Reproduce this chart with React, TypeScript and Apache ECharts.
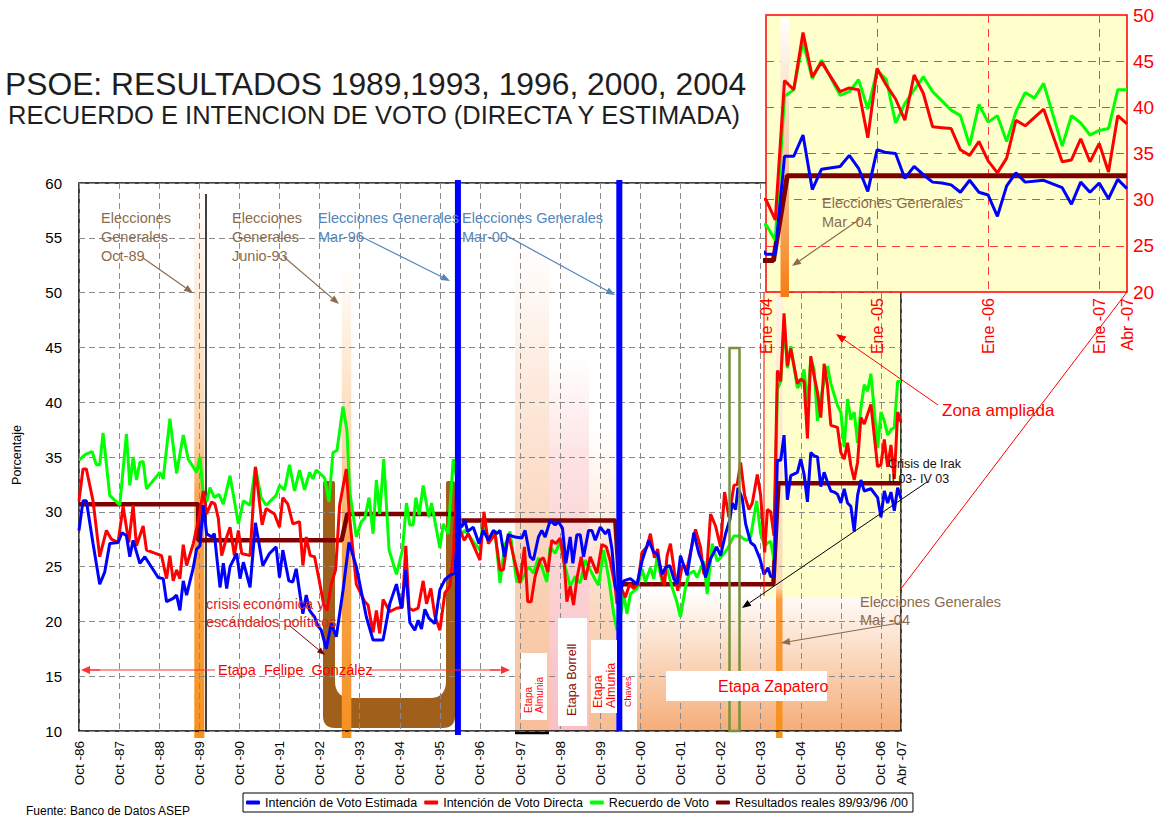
import React, { useEffect, useRef } from 'react';
import * as echarts from 'echarts';

const FONT = '"Liberation Sans", Arial, sans-serif';

const SERIES_NAMES = [
  'Intención de Voto Estimada',
  'Intención de Voto Directa',
  'Recuerdo de Voto',
  'Resultados reales 89/93/96 /00',
];
const SERIES_COLORS = ['#0000ff', '#ff0000', '#00ff00', '#7f0000'];

// x = months since Oct-86
const MAIN_TICK_LABELS = [
  'Oct -86', 'Oct -87', 'Oct -88', 'Oct -89', 'Oct -90', 'Oct -91', 'Oct -92', 'Oct -93',
  'Oct -94', 'Oct -95', 'Oct -96', 'Oct -97', 'Oct -98', 'Oct -99', 'Oct -00', 'Oct -01',
  'Oct -02', 'Oct -03', 'Oct -04', 'Oct -05', 'Oct -06', 'Abr -07',
];
const INSET_TICK_LABELS = ['Ene -04', 'Ene -05', 'Ene -06', 'Ene -07', 'Abr -07'];
const MAIN_MAX = 246; // Abr-07
const INSET_START = 207; // Ene-04
const INSET_MAX = 39;

const estimada: number[][] = [
  [0, 28.3], [1.2, 31.0], [2.2, 31.0], [4.2, 27.1], [6.2, 23.4], [7.7, 24.5], [9.2, 27.1], [11.7, 27.2],
  [12.9, 28.1], [14.2, 27.8], [15.2, 25.9], [16.2, 27.4], [18.2, 25.3], [19.7, 25.9], [23.7, 24.0],
  [25.2, 23.9], [26.2, 21.8], [28.2, 22.1], [29.2, 22.4], [30.2, 21.0], [31.2, 23.7], [32.2, 22.4],
  [34.2, 24.9], [35.2, 26.6], [36.2, 26.9], [37.2, 30.6], [38.2, 28.0], [39.7, 27.7], [40.5, 28.0],
  [42.2, 23.1], [43.2, 25.3], [44.2, 23.0], [45.2, 25.0], [47.2, 26.2], [48.2, 23.9], [49.2, 25.4],
  [51.2, 23.1], [52.8, 29.0], [55, 25.1], [57, 26.2], [59, 26.8], [60, 24.0], [61, 26.5], [62.8, 23.7],
  [64, 23.6], [65, 24.8], [67, 20.7], [68, 22.4], [69, 21.0], [70.5, 20.4], [71.5, 19.6], [72.5, 19.2],
  [74, 17.5], [75.5, 19.8], [77, 18.6], [79, 22.8], [80.8, 27.2], [83, 25.0], [86, 20.4], [88, 18.3],
  [91, 18.3], [93, 21.6], [95, 23.4], [96.5, 21.2], [97.8, 24.7], [99, 19.9], [100.5, 19.2], [101.5, 20.1],
  [102.5, 19.3], [103.5, 21.1], [104.7, 20.3], [106.5, 19.8], [108, 22.9], [109.5, 23.8], [111, 24.2],
  [112.5, 24.4], [113.5, 29.2], [114.5, 28.6], [115.5, 29.2], [116.3, 28.2], [118, 28.6], [119.7, 27.1],
  [121, 28.3], [122.5, 27.4], [124, 28.3], [125, 28.0], [126, 28.3], [127.3, 25.9], [128.5, 27.9],
  [130.5, 27.7], [132.5, 27.6], [133.5, 28.3], [135, 25.9], [136, 25.6], [137.5, 27.7], [138.5, 28.3],
  [139.5, 27.7], [141, 29.2], [142.5, 28.8], [143.5, 29.1], [144.7, 28.5], [145.7, 25.3], [147, 27.7],
  [147.8, 25.3], [149, 27.9], [150, 27.9], [151, 25.9], [152.5, 28.3], [153.5, 28.3], [154.5, 27.4],
  [156, 28.6], [157.5, 28.0], [158.5, 28.4], [159.5, 26.6], [160.5, 23.1], [161.8, 22.5], [163, 23.7],
  [165, 23.9], [167, 23.4], [168.5, 25.5], [170.5, 27.4], [172, 26.3], [173, 26.2], [174.5, 24.3],
  [175.5, 24.9], [176.8, 25.1], [178, 23.9], [179, 23.4], [180, 26.0], [182, 24.2], [184, 28.1],
  [185.5, 26.2], [186.8, 25.2], [187.5, 24.0], [189, 25.7], [190.8, 26.8], [192, 26.0], [193.5, 28.0],
  [194.8, 29.3], [195.5, 30.8], [196.5, 30.2], [197.2, 32.2], [198.5, 31.2], [199.5, 28.9], [201, 27.2],
  [202.2, 26.9], [203.8, 25.7], [205, 24.3], [206.2, 24.9],
  [207, 24.1], [208, 24.1], [209, 34.7], [210, 34.7], [211, 37.0], [212, 31.1], [213, 33.3], [215, 33.6],
  [216, 34.8], [217, 33.4], [218, 30.9], [219, 35.4], [220, 35.1], [221, 35.0], [222, 32.3], [223, 33.6],
  [224, 32.7], [225, 31.9], [226, 31.8], [227, 31.6], [228, 30.8], [229, 32.1], [230, 30.8], [231, 30.5],
  [232, 28.2], [233, 31.5], [234, 32.9], [235, 31.9], [237, 32.1], [239, 31.3], [240, 29.5], [241, 31.9],
  [242, 30.8], [243, 31.8], [244, 30.1], [245, 32.2], [246, 31.2],
];

const directa: number[][] = [
  [0, 31.0], [1.2, 33.9], [2.2, 33.9], [4.2, 31.0], [6.2, 25.9], [8.2, 28.3], [9.7, 27.5], [11.7, 27.2],
  [13.2, 30.5], [14.9, 27.2], [16.2, 30.6], [17.2, 26.9], [19.2, 28.7], [20.2, 26.5], [24.7, 26.0],
  [26.2, 23.9], [27.2, 26.0], [28.2, 23.7], [29.2, 24.7], [30.2, 23.9], [31.2, 27.0], [32.2, 25.1],
  [34.2, 27.1], [35.7, 29.2], [37.2, 31.9], [38.2, 29.8], [39.7, 30.9], [40.7, 30.7], [41.7, 29.4],
  [42.7, 26.0], [44.2, 27.7], [45.2, 28.6], [46.5, 26.0], [47.7, 28.3], [48.7, 26.2], [51.2, 26.0],
  [52.8, 34.1], [54.8, 28.8], [56, 30.3], [58.5, 29.8], [60, 28.6], [61, 31.3], [62.5, 30.7], [64, 28.9],
  [66, 29.1], [67, 25.1], [68, 27.7], [69.2, 26.0], [70.5, 25.9], [71.8, 23.9], [73.2, 21.6], [74.2, 21.0],
  [75.5, 23.4], [76.8, 24.7], [78, 30.6], [80, 33.9], [81, 29.4], [83, 23.4], [85.5, 21.8], [86.5, 21.5],
  [88, 19.0], [89, 21.0], [90, 18.9], [91, 22.0], [93, 20.9], [95, 21.2], [96.8, 21.3], [97.8, 26.9],
  [98.8, 21.2], [100, 21.0], [101.5, 21.2], [103, 23.7], [104, 21.6], [105.3, 23.0], [106.5, 20.5],
  [108, 19.2], [109.5, 22.6], [111, 23.2], [112, 26.1], [113, 32.1], [114, 28.3], [115.3, 27.4],
  [116.5, 28.0], [120, 25.6], [121.2, 30.0], [122.5, 27.1], [124.5, 28.0], [126, 24.7], [127, 24.7],
  [128.5, 28.0], [130.3, 25.6], [132, 23.5], [133.3, 26.8], [134.3, 21.8], [135.3, 21.8], [136.5, 24.1],
  [138, 25.6], [139, 25.8], [140.3, 24.5], [141.5, 27.4], [142.7, 27.1], [144, 27.6], [145.3, 25.0],
  [146, 21.8], [147, 23.2], [148, 21.5], [149, 23.9], [150.3, 25.9], [151.5, 23.8], [153, 25.9],
  [155, 24.4], [156.5, 27.0], [157.8, 26.8], [159, 25.5], [160.5, 23.1], [161, 21.6], [162.2, 23.1],
  [163.5, 22.2], [164.8, 23.4], [166, 23.0], [167.2, 23.4], [168.5, 26.3], [170, 26.8], [171, 28.0],
  [172.2, 25.8], [173.2, 26.6], [174.2, 24.3], [175.2, 23.3], [176, 26.0], [177, 27.1], [178.2, 24.5],
  [179.2, 22.8], [180.5, 25.1], [182, 24.9], [184.5, 28.4], [186, 26.8], [187, 24.3], [188, 25.2],
  [189, 29.8], [190.5, 28.7], [192, 26.8], [193.2, 31.8], [194.5, 29.5], [196, 32.4], [197, 32.5],
  [198, 34.5], [199.2, 31.5], [200.5, 30.2], [201.5, 30.8], [203, 33.4], [204, 31.5], [205.2, 26.3],
  [206, 30.2],
  [207, 30.0], [208, 27.8], [209, 42.9], [210, 41.9], [211, 48.1], [212, 43.3], [213, 44.9], [215, 41.7],
  [216, 42.1], [217, 41.9], [218, 36.7], [219, 44.2], [220, 42.4], [221, 40.9], [222, 38.6], [223, 43.5],
  [224, 41.5], [225, 37.9], [226, 37.8], [227, 37.7], [228, 35.4], [229, 34.8], [230, 36.3], [231, 34.2],
  [232, 32.9], [233, 34.5], [234, 38.6], [235, 38.0], [237, 39.8], [239, 34.1], [240, 34.3], [241, 36.6],
  [242, 34.1], [243, 36.1], [244, 33.0], [245, 39.1], [246, 38.2],
];

const recuerdo: number[][] = [
  [0, 34.7], [1.7, 35.2], [3.9, 35.5], [5.2, 34.3], [6.2, 34.3], [7.2, 37.2], [9.2, 31.5], [12.2, 30.6],
  [14.2, 37.1], [15.2, 32.4], [16.2, 35.0], [17.2, 32.9], [18.2, 34.5], [19.2, 34.6], [20.2, 32.1],
  [24.2, 33.6], [25.2, 33.0], [27.2, 38.5], [29.2, 33.5], [31.2, 37.0], [32.7, 34.8], [35.2, 33.6],
  [36.2, 35.0], [37.2, 31.6], [38.2, 30.9], [39.2, 32.2], [40.5, 31.3], [41.9, 31.6], [43.2, 30.7],
  [45.2, 33.3], [47.7, 28.9], [49.2, 31.0], [51.2, 30.6], [52.8, 34.1], [54.5, 31.3], [56, 30.6],
  [59, 31.5], [60, 32.4], [61.5, 32.0], [63, 34.3], [64.5, 31.9], [66, 33.8], [67.5, 32.0], [69, 33.6],
  [70, 33.0], [71, 33.8], [73.5, 33.1], [74.8, 30.9], [76, 35.4], [77.2, 35.6], [79, 39.6], [80.2, 37.4],
  [81, 31.9], [83, 27.7], [84.5, 29.1], [85.5, 29.4], [86.8, 31.3], [88, 28.0], [89, 32.9], [90, 29.8],
  [91.2, 34.8], [92.8, 26.5], [95, 24.3], [96.8, 26.5], [98, 30.8], [99, 28.8], [100, 28.8], [100.8, 31.3],
  [101.8, 29.7], [103, 32.4], [104.7, 29.5], [105.5, 30.8], [108, 26.7], [109, 28.9], [110.5, 28.0],
  [112, 34.8], [113.5, 32.3], [114.3, 27.9], [115.5, 28.3], [118.5, 27.1], [120, 26.5], [121, 29.5],
  [122.5, 27.3], [124.5, 28.3], [126, 23.5], [127.3, 26.8], [129, 28.2], [131, 23.6], [132.5, 23.8],
  [134.5, 25.0], [136, 24.4], [137.5, 25.8], [138.5, 25.0], [140, 23.6], [141, 26.8], [142.5, 26.2],
  [144, 27.3], [145.5, 25.0], [147, 23.2], [148.5, 24.1], [150, 23.5], [151.5, 25.6], [153, 24.7],
  [154.5, 23.8], [155.5, 23.3], [157, 26.5], [158.5, 24.0], [160, 20.7], [161, 19.2], [162.2, 20.7],
  [163, 22.5], [164, 20.7], [165, 22.5], [167, 23.0], [168.5, 24.8], [169.5, 23.6], [171, 24.9],
  [172, 23.9], [173, 25.8], [174.5, 23.6], [176, 24.8], [177.5, 23.1], [178.8, 21.9], [180, 20.4],
  [181.5, 23.1], [182.5, 24.3], [184, 24.6], [185, 24.0], [186, 24.8], [187, 25.5], [188, 22.5],
  [189.5, 27.1], [191, 25.5], [192.5, 26.0], [194, 26.6], [196, 27.8], [197.8, 27.8], [199, 27.5],
  [200, 27.4], [201, 27.7], [202, 29.6], [202.8, 31.0], [204, 28.0], [205.2, 26.9], [206.3, 27.2],
  [207, 27.3], [208, 25.6], [209, 41.2], [210, 41.9], [211, 47.1], [212, 43.1], [213, 45.1], [215, 41.3],
  [216, 41.7], [217, 43.0], [218, 39.8], [219, 44.0], [220, 43.0], [221, 38.3], [222, 40.4], [223, 41.9],
  [224, 43.3], [225, 41.7], [227, 39.7], [228, 39.1], [229, 35.9], [230, 40.3], [231, 38.4], [232, 39.1],
  [233, 36.3], [234, 39.5], [235, 41.6], [236, 41.0], [237, 42.6], [239, 35.8], [240, 39.1], [241, 38.3],
  [242, 37.0], [243, 37.5], [244, 37.7], [245, 41.9], [246, 41.9],
];

const resultados: number[][] = [
  [0, 30.7], [35.7, 30.7], [35.7, 27.4], [78.6, 27.4], [80.3, 29.8], [113.4, 29.8], [113.4, 29.2],
  [160.5, 29.2], [161.7, 23.4], [207.8, 23.4], [209.3, 32.6], [246, 32.6],
];

const SERIES_DATA = [estimada, directa, recuerdo, resultados];

function arrow(x1: number, y1: number, x2: number, y2: number, color: string, lw = 1, hl = 9, hw = 3.5, z = 5) {
  const dx = x2 - x1, dy = y2 - y1;
  const L = Math.hypot(dx, dy);
  const ux = dx / L, uy = dy / L;
  const bx = x2 - ux * hl, by = y2 - uy * hl;
  return [
    { type: 'line', silent: true, z, shape: { x1, y1, x2: bx, y2: by }, style: { stroke: color, lineWidth: lw } },
    {
      type: 'polygon', silent: true, z,
      shape: { points: [[x2, y2], [bx - uy * hw, by + ux * hw], [bx + uy * hw, by - ux * hw]] },
      style: { fill: color },
    },
  ];
}

function txt(text: string, x: number, y: number, color: string, size: number, o: any = {}) {
  return {
    type: 'text', silent: true, x, y, rotation: o.rot || 0, z: o.z ?? 5,
    style: {
      text, fill: color, font: `${o.weight || 'normal'} ${size}px ${FONT}`,
      textAlign: o.align || 'left', align: o.align || 'left',
      textVerticalAlign: o.va || 'middle', verticalAlign: o.va || 'middle',
    },
  };
}

function vgrad(stops: [number, string][]) {
  return { type: 'linear', x: 0, y: 0, x2: 0, y2: 1, colorStops: stops.map(([offset, color]) => ({ offset, color })) };
}

let shapeRegistered = false;

export default function App() {
  const ref = useRef<HTMLDivElement>(null);

  useEffect(() => {
    if (!shapeRegistered) {
      const d =
        'M0,2 Q0,0 2,0 L10,0 Q12,0 12,2 L12,200 Q12,217 29,217 L107,217 Q123,217 123,200 L123,2 Q123,0 125,0 L130,0 Q132,0 132,2 L132,235 Q132,247 120,247 L12,247 Q0,247 0,235 Z';
      echarts.graphic.registerShape('hatchU', echarts.graphic.extendPath(d, {}) as any);
      shapeRegistered = true;
    }
    const chart = echarts.init(ref.current!, null, { renderer: 'svg' });

    const mainFmt = (v: number) => {
      if (v >= MAIN_MAX) return MAIN_TICK_LABELS[MAIN_TICK_LABELS.length - 1];
      return v % 12 === 0 ? MAIN_TICK_LABELS[v / 12] : '';
    };
    const insetFmt = (v: number) => {
      if (v >= INSET_MAX) return INSET_TICK_LABELS[INSET_TICK_LABELS.length - 1];
      return v % 12 === 0 ? INSET_TICK_LABELS[v / 12] : '';
    };

    const mainSeries = SERIES_NAMES.map((name, i) => ({
      name, type: 'line', xAxisIndex: 0, yAxisIndex: 0, data: SERIES_DATA[i],
      showSymbol: false, symbol: 'none', color: SERIES_COLORS[i], z: 3,
      lineStyle: { color: SERIES_COLORS[i], width: i === 3 ? 4.5 : 3 },
    }));
    const insetSeries = SERIES_NAMES.map((name, i) => ({
      name, type: 'line', xAxisIndex: 1, yAxisIndex: 1,
      data: SERIES_DATA[i].map(([x, y]) => [x - INSET_START, y]),
      showSymbol: false, symbol: 'none', color: SERIES_COLORS[i], z: 11, clip: true,
      lineStyle: { color: SERIES_COLORS[i], width: i === 3 ? 5 : 3 },
    }));
    // draw order: results at the bottom, estimated on top
    const order = [3, 2, 1, 0];

    chart.setOption({
      animation: false,
      backgroundColor: '#ffffff',
      textStyle: { fontFamily: FONT },
      legend: {
        data: SERIES_NAMES.map((name) => ({ name, icon: 'roundRect' })),
        left: 243, top: 793, orient: 'horizontal',
        itemWidth: 14, itemHeight: 4, itemGap: 7,
        padding: [3, 5, 3, 3],
        borderColor: '#000', borderWidth: 1,
        textStyle: { fontSize: 12.5, color: '#000', fontFamily: FONT },
      },
      grid: [
        { left: 79, top: 183, width: 822, height: 548, show: true, borderColor: '#000', borderWidth: 1.5, backgroundColor: 'transparent', z: 2 },
        { left: 766, top: 15, width: 361, height: 277, show: true, backgroundColor: '#FFFFCC', borderColor: '#ff0000', borderWidth: 1.5, z: 10 },
      ],
      xAxis: [
        {
          type: 'value', gridIndex: 0, min: 0, max: MAIN_MAX, interval: 12, z: 2,
          axisLine: { show: false }, axisTick: { show: false },
          splitLine: { show: true, lineStyle: { color: '#8a8a8a', type: [6, 4], width: 1 } },
          axisLabel: { rotate: 90, fontSize: 13.5, color: '#000', margin: 10, formatter: mainFmt, showMaxLabel: true, showMinLabel: true, fontFamily: FONT },
        },
        {
          type: 'value', gridIndex: 1, min: 0, max: INSET_MAX, interval: 12, z: 10,
          axisLine: { show: false }, axisTick: { show: false },
          splitLine: { show: true, lineStyle: { color: '#ff3b3b', type: [8, 6], width: 1 } },
          axisLabel: { rotate: 90, fontSize: 16, color: '#ff0000', margin: 6, formatter: insetFmt, showMaxLabel: true, fontFamily: FONT },
        },
      ],
      yAxis: [
        {
          type: 'value', gridIndex: 0, min: 10, max: 60, interval: 5, z: 2,
          axisLine: { show: false }, axisTick: { show: false },
          splitLine: { show: true, lineStyle: { color: '#8a8a8a', type: [6, 4], width: 1 } },
          axisLabel: { fontSize: 15, color: '#000', margin: 17, fontFamily: FONT },
        },
        {
          type: 'value', gridIndex: 1, min: 20, max: 50, interval: 5, position: 'right', z: 10,
          axisLine: { show: false }, axisTick: { show: false },
          splitLine: { show: true, lineStyle: { color: '#ff3b3b', type: [8, 6], width: 1 } },
          axisLabel: { fontSize: 19, color: '#ff0000', margin: 6, fontFamily: FONT },
        },
      ],
      series: [...order.map((i) => mainSeries[i]), ...order.map((i) => insetSeries[i])],
    });

    const X = (i: number) => chart.convertToPixel({ xAxisIndex: 0 }, i) as number;
    const XI = (m: number) => chart.convertToPixel({ xAxisIndex: 1 }, m) as number;

    const orangeStops: [number, string][] = [[0, '#ffffff'], [0.45, '#fcd3a9'], [0.56, '#f9a654'], [1, '#f7911f']];
    const brown = '#8c6c4c';
    const steel = '#5486bc';
    const els: any[] = [];

    // background bands
    els.push({ type: 'rect', silent: true, z: 1, shape: { x: 515, y: 243, width: 34, height: 488 }, style: { fill: vgrad([[0, '#ffffff'], [0.3, '#fde9dc'], [1, '#f7bf98']]) } });
    els.push({ type: 'rect', silent: true, z: 1, shape: { x: 549, y: 355, width: 40, height: 376 }, style: { fill: vgrad([[0, '#ffffff'], [0.3, '#fde0e0'], [1, '#f9bfc4']]) } });
    els.push({ type: 'rect', silent: true, z: 1, shape: { x: 589, y: 430, width: 27, height: 301 }, style: { fill: vgrad([[0, '#ffffff'], [0.4, '#fde6d6'], [1, '#f7bd92']]) } });
    els.push({ type: 'rect', silent: true, z: 1, shape: { x: 637, y: 590, width: 264, height: 141 }, style: { fill: vgrad([[0, '#ffffff'], [1, '#f6ad78']]) } });
    els.push({ type: 'rect', silent: true, z: 1, shape: { x: 764, y: 292, width: 137, height: 305 }, style: { fill: '#FFFFCC' } });

    // crisis U shape
    els.push({ type: 'hatchU', silent: true, z: 1.5, x: 323, y: 481, style: { fill: '#a0601c' } });

    // election bars
    els.push({ type: 'rect', silent: true, z: 1.6, shape: { x: X(36) - 5, y: 185, width: 10, height: 553 }, style: { fill: vgrad(orangeStops) } });
    els.push({ type: 'rect', silent: true, z: 1.6, shape: { x: X(80) - 4.5, y: 267, width: 9.5, height: 471 }, style: { fill: vgrad([[0, '#ffffff'], [0.4, '#fcd3a9'], [0.58, '#f9a654'], [1, '#f7911f']]) } });
    els.push({ type: 'rect', silent: true, z: 1.6, shape: { x: X(209.5) - 3, y: 292, width: 6.5, height: 446 }, style: { fill: vgrad([[0, '#fff3e6'], [0.66, '#fcd8b5'], [0.69, '#f99c3c'], [1, '#f7901e']]) } });
    els.push({ type: 'line', silent: true, z: 1.7, shape: { x1: 206, y1: 194, x2: 206, y2: 731 }, style: { stroke: '#000', lineWidth: 1.5 } });
    els.push({ type: 'line', silent: true, z: 4, shape: { x1: 515, y1: 733, x2: 549, y2: 733 }, style: { stroke: '#000', lineWidth: 2.5 } });

    // blue election lines
    els.push({ type: 'line', silent: true, z: 4, shape: { x1: X(113.4), y1: 180, x2: X(113.4), y2: 735 }, style: { stroke: '#0000ff', lineWidth: 6 } });
    els.push({ type: 'line', silent: true, z: 4, shape: { x1: X(161.7), y1: 180, x2: X(161.7), y2: 731 }, style: { stroke: '#0000ff', lineWidth: 6 } });

    // zoom zone marker & Irak rectangle
    els.push({ type: 'line', silent: true, z: 4, shape: { x1: 764, y1: 292, x2: 764, y2: 596 }, style: { stroke: '#ff0000', lineWidth: 1 } });
    els.push({ type: 'rect', silent: true, z: 4, shape: { x: 729.5, y: 348, width: 10, height: 383 }, style: { fill: 'none', stroke: '#77933c', lineWidth: 2.5 } });

    // white boxes with stage labels
    const box = (x: number, y: number, w: number, h: number) => ({ type: 'rect', silent: true, z: 4, shape: { x, y, width: w, height: h }, style: { fill: '#ffffff' } });
    els.push(box(521, 653, 26, 67), box(558, 618, 29, 108), box(591, 640, 26, 73), box(666, 671, 161, 30));
    const R = Math.PI / 2;
    els.push(txt('Etapa', 528, 713, '#ff0000', 10, { rot: R }));
    els.push(txt('Almunia', 539, 713, '#ff0000', 10, { rot: R }));
    els.push(txt('Etapa Borrell', 572, 716, '#8b1010', 12.5, { rot: R }));
    els.push(txt('Etapa', 598, 708, '#ff0000', 12.5, { rot: R }));
    els.push(txt('Almunia', 611, 708, '#ff0000', 12.5, { rot: R }));
    els.push(txt('Chaves', 628, 707, '#ff0000', 9, { rot: R }));
    els.push(txt('Etapa Zapatero', 718, 686, '#ff0000', 16));

    // Etapa Felipe González
    els.push({ type: 'line', silent: true, z: 5, shape: { x1: 88, y1: 670, x2: 215, y2: 670 }, style: { stroke: '#ff3030', lineWidth: 1.2 } });
    els.push(...arrow(100, 670, 81, 670, '#ff3030', 1.2, 9, 4));
    els.push({ type: 'line', silent: true, z: 5, shape: { x1: 369, y1: 670, x2: 500, y2: 670 }, style: { stroke: '#ff3030', lineWidth: 1.2 } });
    els.push(...arrow(490, 670, 510, 670, '#ff3030', 1.2, 9, 4));
    els.push(txt('Etapa  Felipe  González', 218, 670, '#ff0000', 14.5));

    // crisis annotation
    els.push(txt('crisis económica y', 206, 604, '#d4281c', 14.5));
    els.push(txt('escándalos políticos', 206, 622, '#d4281c', 14.5));
    els.push(...arrow(290, 626, 325, 655, '#7b0000', 1, 8, 3));

    // election annotations
    els.push(txt('Elecciones', 101, 218, brown, 14.5), txt('Generales', 101, 237, brown, 14.5), txt('Oct-89', 101, 256, brown, 14.5));
    els.push(...arrow(143, 258, 193, 293, brown, 1.2, 9, 3.5));
    els.push(txt('Elecciones', 232, 218, brown, 14.5), txt('Generales', 232, 237, brown, 14.5), txt('Junio-93', 232, 256, brown, 14.5));
    els.push(...arrow(284, 257, 339, 304, brown, 1.2, 9, 3.5));
    els.push(txt('Elecciones Generales', 318, 218, steel, 14.5), txt('Mar-96', 318, 237, steel, 14.5));
    els.push(...arrow(362, 237, 450, 281, steel, 1.2, 9, 3.5));
    els.push(txt('Elecciones Generales', 462, 218, steel, 14.5), txt('Mar-00', 462, 237, steel, 14.5));
    els.push(...arrow(507, 236, 615, 295, steel, 1.2, 9, 3.5));
    els.push(txt('Elecciones Generales', 860, 602, brown, 14.5), txt('Mar -04', 860, 620, brown, 14.5));
    els.push(...arrow(905, 622, 781, 643, brown, 1.2, 9, 3.5));

    // Irak
    els.push(txt('Crisis de Irak', 888, 464, '#111', 12.5), txt('II 03- IV 03', 888, 479, '#111', 12.5));
    els.push(...arrow(927, 482, 742, 608, '#000', 1, 9, 3.5));

    // zona ampliada
    els.push(txt('Zona ampliada', 942, 410, '#ff0000', 17));
    els.push(...arrow(938, 405, 836, 334, '#ff0000', 1, 10, 4));
    els.push({ type: 'line', silent: true, z: 12, shape: { x1: 1127, y1: 292, x2: 900, y2: 590 }, style: { stroke: '#ff0000', lineWidth: 1 } });

    // inset decorations
    els.push({ type: 'rect', silent: true, z: 10.5, shape: { x: XI(2) - 4, y: 18, width: 8.5, height: 279 }, style: { fill: vgrad([[0, '#ffffff'], [0.5, '#f9c9a0'], [1, '#f57c10']]) } });
    els.push(txt('Elecciones Generales', 822, 203, brown, 14.5, { z: 12 }), txt('Mar -04', 822, 222, brown, 14.5, { z: 12 }));
    els.push(...arrow(860, 219, 792, 266, brown, 1.2, 9, 3.5, 12));

    // titles and misc text
    els.push(txt('PSOE: RESULTADOS 1989,1993, 1996, 2000, 2004', 5, 84, '#1e1e1e', 31.8));
    els.push(txt('RECUERDO E INTENCION DE VOTO (DIRECTA Y ESTIMADA)', 8, 115, '#1e1e1e', 25.5));
    els.push(txt('Porcentaje', 17, 455, '#000', 12.5, { rot: R, align: 'center' }));
    els.push(txt('Fuente: Banco de Datos ASEP', 26, 811, '#000', 12));

    chart.setOption({ graphic: { elements: els } });

    return () => chart.dispose();
  }, []);

  return <div ref={ref} style={{ position: 'absolute', left: 0, top: 0, width: 1169, height: 819, background: '#fff' }} />;
}
